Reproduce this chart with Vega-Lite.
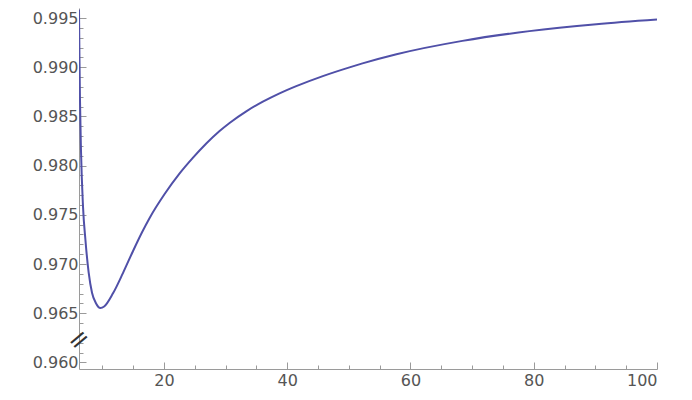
{
  "$schema": "https://vega.github.io/schema/vega-lite/v6.json",
  "width": 578,
  "height": 361,
  "autosize": {"type": "none"},
  "padding": {"left": 79, "top": 8, "right": 35, "bottom": 31},
  "background": "white",
  "config": {
    "view": {"stroke": null},
    "axis": {"grid": false, "labelFont": "DejaVu Sans", "labelFontSize": 16, "labelColor": "#555555", "domainColor": "#9a9a9a", "tickColor": "#9a9a9a", "title": null}
  },
  "data": {"values": [
    {"x": 6.22, "y": 0.99584},
    {"x": 6.30, "y": 0.99076},
    {"x": 6.38, "y": 0.98670},
    {"x": 6.54, "y": 0.98162},
    {"x": 6.87, "y": 0.97585},
    {"x": 7.26, "y": 0.97247},
    {"x": 7.79, "y": 0.96912},
    {"x": 8.33, "y": 0.96708},
    {"x": 8.93, "y": 0.96607},
    {"x": 9.69, "y": 0.96553},
    {"x": 10.30, "y": 0.96568},
    {"x": 11.76, "y": 0.96705},
    {"x": 13.35, "y": 0.96908},
    {"x": 14.97, "y": 0.97130},
    {"x": 16.47, "y": 0.97325},
    {"x": 17.68, "y": 0.97468},
    {"x": 20.11, "y": 0.97711},
    {"x": 22.55, "y": 0.97921},
    {"x": 24.65, "y": 0.98076},
    {"x": 26.87, "y": 0.98225},
    {"x": 29.03, "y": 0.98352},
    {"x": 30.65, "y": 0.98434},
    {"x": 33.36, "y": 0.98552},
    {"x": 36.05, "y": 0.98650},
    {"x": 38.76, "y": 0.98735},
    {"x": 41.47, "y": 0.98808},
    {"x": 45.78, "y": 0.98910},
    {"x": 50.11, "y": 0.98999},
    {"x": 52.22, "y": 0.99039},
    {"x": 57.73, "y": 0.99132},
    {"x": 68.43, "y": 0.99268},
    {"x": 79.29, "y": 0.99367},
    {"x": 90.16, "y": 0.99437},
    {"x": 100.0, "y": 0.99484}
  ]},
  "layer": [
    {
      "mark": {"type": "line", "opacity": 0},
      "encoding": {
        "x": {"field": "x", "type": "quantitative", "scale": {"domain": [6.22, 100], "nice": false, "zero": false},
              "axis": {"orient": "bottom", "values": [10, 15, 25, 30, 35, 45, 50, 55, 65, 70, 75, 85, 90, 95], "labels": false, "domain": false, "tickSize": -4}},
        "y": {"field": "y", "type": "quantitative", "scale": {"domain": [0.95933, 0.99602], "nice": false, "zero": false},
              "axis": {"orient": "left", "values": [0.961, 0.962, 0.963, 0.964, 0.966, 0.967, 0.968, 0.969, 0.971, 0.972, 0.973, 0.974, 0.976, 0.977, 0.978, 0.979, 0.981, 0.982, 0.983, 0.984, 0.986, 0.987, 0.988, 0.989, 0.991, 0.992, 0.993, 0.994], "labels": false, "domain": false, "tickSize": -4}}
      }
    },
    {
      "mark": {"type": "line", "interpolate": "monotone", "color": "#5050a8", "strokeWidth": 2, "clip": true},
      "encoding": {
        "x": {"field": "x", "type": "quantitative",
              "axis": {"orient": "bottom", "values": [20, 40, 60, 80, 100], "tickSize": -7, "labelPadding": 10}},
        "y": {"field": "y", "type": "quantitative",
              "axis": {"orient": "left", "values": [0.96, 0.965, 0.97, 0.975, 0.98, 0.985, 0.99, 0.995], "format": ".3f", "tickSize": -7, "labelPadding": 8}}
      }
    },
    {
      "data": {"values": [{"sym": "="}]},
      "mark": {"type": "text", "angle": -40, "fontSize": 26, "font": "DejaVu Sans", "color": "#333333", "clip": false},
      "encoding": {
        "x": {"datum": 6.22, "type": "quantitative", "axis": null},
        "y": {"datum": 0.9623, "type": "quantitative", "axis": null},
        "text": {"field": "sym"}
      }
    }
  ],
  "resolve": {"axis": {"x": "independent", "y": "independent"}}
}
